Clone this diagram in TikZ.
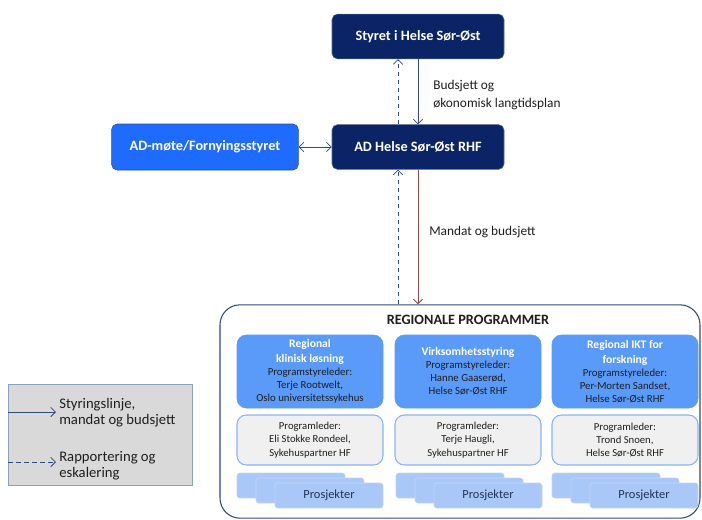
\documentclass[tikz,border=0pt]{standalone}
\usepackage{fontspec}
\setmainfont{Carlito}
\usepackage{xcolor}
\usepackage{tikz}
\usetikzlibrary{backgrounds}
\usetikzlibrary{positioning}
\usetikzlibrary{arrows.meta}
\usetikzlibrary{calc}
\pgfdeclarelayer{edgelayer}
\pgfdeclarelayer{nodelayer}
\pgfsetlayers{background,edgelayer,nodelayer,main}
\definecolor{navy}{HTML}{0B2465}
\definecolor{brightblue}{HTML}{1F6BFF}
\definecolor{brightedge}{HTML}{2F4F9F}
\definecolor{colblue}{HTML}{5A9AF9}
\definecolor{greyfill}{HTML}{F0F0F0}
\definecolor{greyedge}{HTML}{8AB4F8}
\definecolor{prosfill}{HTML}{A9C7F7}
\definecolor{prosedge}{HTML}{C3D7F7}
\definecolor{legfill}{HTML}{D9D9D9}
\definecolor{legedge}{HTML}{8EA0BC}
\definecolor{arrowblue}{HTML}{2E4A7F}
\definecolor{arrowbrown}{HTML}{8B4A42}
\definecolor{textdark}{HTML}{1E1E1E}
\newcommand{\ttlfont}{\fontsize{8.7}{11.25}\selectfont\bfseries\color{white}}
\newcommand{\bdyfont}{\fontsize{8.1}{9.75}\selectfont\color{textdark}}
\tikzstyle{none}=[inner sep=0mm]
\tikzstyle{navy box}=[shape=rectangle,rounded corners=4pt,fill=navy,draw=navy!70!white,text=white,font=\fontsize{10.7}{12}\selectfont\bfseries,minimum width=129pt,minimum height=33.5pt]
\tikzstyle{bright box}=[navy box,fill=brightblue,draw=brightedge,minimum width=140pt,minimum height=34.5pt]
\tikzstyle{prog box}=[shape=rectangle,rounded corners=15pt,fill=white,draw=arrowblue,thick,minimum width=360pt,minimum height=160pt]
\tikzstyle{col box}=[shape=rectangle,rounded corners=7pt,fill=colblue,draw=colblue,text width=106pt,align=flush center,inner sep=1pt,minimum width=109.5pt,minimum height=54.75pt]
\tikzstyle{grey box}=[shape=rectangle,rounded corners=7pt,fill=greyfill,draw=greyedge,thick,text width=106pt,align=flush center,inner sep=1pt,minimum width=109.5pt,minimum height=37.5pt,font=\fontsize{8}{10}\selectfont\color{textdark}]
\tikzstyle{pros box}=[shape=rectangle,rounded corners=2pt,fill=prosfill,draw=prosedge,minimum width=81pt,minimum height=18.75pt,font=\fontsize{9.3}{11}\selectfont,text=arrowblue!70!black]
\tikzstyle{legend box}=[shape=rectangle,fill=legfill,draw=legedge,minimum width=138pt,minimum height=75.75pt]
\tikzstyle{label}=[inner sep=0mm,align=left,font=\fontsize{10}{13.5}\selectfont,text=textdark]
\tikzstyle{diredge}=[->,>={Straight Barb[length=3.5pt,width=7pt]}]
\tikzstyle{solid arrow}=[diredge,draw=arrowblue,semithick]
\tikzstyle{dash arrow}=[diredge,draw=arrowblue,semithick,dash pattern=on 3.5pt off 2.5pt]
\tikzstyle{brown arrow}=[diredge,draw=arrowbrown,semithick]
\tikzstyle{col line}=[draw=greyedge,thick]

\begin{document}
\begin{tikzpicture}[x=0.75pt,y=-0.75pt]
	\useasboundingbox (0,0) rectangle (702,519);
	\begin{pgfonlayer}{nodelayer}
		\node [style=navy box] (styret) at (418, 36.5) {Styret i Helse Sør-Øst};
		\node [style=navy box] (adhelse) at (418, 147) {AD Helse Sør-Øst RHF};
		\node [style=bright box] (admote) at (205, 147) {AD-møte/Fornyingsstyret};
		\node [style=prog box] (prog) at (460, 411.5) {};
		\node [style=none,font=\fontsize{10.7}{12}\selectfont\bfseries,text=textdark] (progtitle) at (468, 320) {REGIONALE PROGRAMMER};

		\node [style=col box] (b1) at (310, 371.5) {{\ttlfont Regional\par klinisk løsning\par}{\bdyfont Programstyreleder:\par Terje Rootwelt,\par Oslo universitetssykehus\par}};
		\node [style=col box] (b2) at (468, 371.5) {{\ttlfont Virksomhetsstyring\par}{\bdyfont Programstyreleder:\par Hanne Gaaserød,\par Helse Sør-Øst RHF\par}};
		\node [style=col box] (b3) at (625, 371.5) {{\ttlfont Regional IKT for\par forskning\par}{\bdyfont Programstyreleder:\par Per-Morten Sandset,\par Helse Sør-Øst RHF\par}};

		\node [style=grey box] (g1) at (310, 440) {Programleder:\par Eli Stokke Rondeel,\par Sykehuspartner HF};
		\node [style=grey box] (g2) at (468, 440) {Programleder:\par Terje Haugli,\par Sykehuspartner HF};
		\node [style=grey box] (g3) at (625, 440) {Programleder:\par Trond Snoen,\par Helse Sør-Øst RHF};

		\node [style=pros box] (p1a) at (291, 485.5) {};
		\node [style=pros box] (p1b) at (310, 490.5) {};
		\node [style=pros box] (p1c) at (329, 495.5) {Prosjekter};
		\node [style=pros box] (p2a) at (450, 485.5) {};
		\node [style=pros box] (p2b) at (469, 490.5) {};
		\node [style=pros box] (p2c) at (488, 495.5) {Prosjekter};
		\node [style=pros box] (p3a) at (606, 485.5) {};
		\node [style=pros box] (p3b) at (625, 490.5) {};
		\node [style=pros box] (p3c) at (644, 495.5) {Prosjekter};

		\node [style=label,anchor=north west] (budlabel) at (433, 80) {Budsjett og\\økonomisk langtidsplan};
		\node [style=label,anchor=base west] (manlabel) at (429, 235) {Mandat og budsjett};

		\node [style=legend box] (legend) at (100, 434.5) {};
		\node [style=label,font=\fontsize{11}{12}\selectfont,anchor=north west] (leg1) at (59, 398) {Styringslinje,\\mandat og budsjett};
		\node [style=label,font=\fontsize{11}{12}\selectfont,anchor=north west] (leg2) at (59, 451) {Rapportering og\\eskalering};
		\coordinate (l1a) at (8, 412);
		\coordinate (l1b) at (56, 412);
		\coordinate (l2a) at (8, 462);
		\coordinate (l2b) at (56, 462);
	\end{pgfonlayer}
	\begin{pgfonlayer}{edgelayer}
		\draw [style=solid arrow] (styret.south) to (adhelse.north);
		\draw [style=dash arrow] ([xshift=-15pt]adhelse.north) to ([xshift=-15pt]styret.south);
		\draw [style=solid arrow,<->] (admote.east) to (adhelse.west);
		\draw [style=brown arrow] (adhelse.south) to (adhelse.south |- prog.north);
		\draw [style=dash arrow] ([xshift=-15pt]adhelse.south |- prog.north) to ([xshift=-15pt]adhelse.south);
		\draw [style=col line] (b1) to (g1);
		\draw [style=col line] (b2) to (g2);
		\draw [style=col line] (b3) to (g3);
	\end{pgfonlayer}
	\draw [style=solid arrow] (l1a) to (l1b);
	\draw [style=dash arrow] (l2a) to (l2b);
\end{tikzpicture}
\end{document}
